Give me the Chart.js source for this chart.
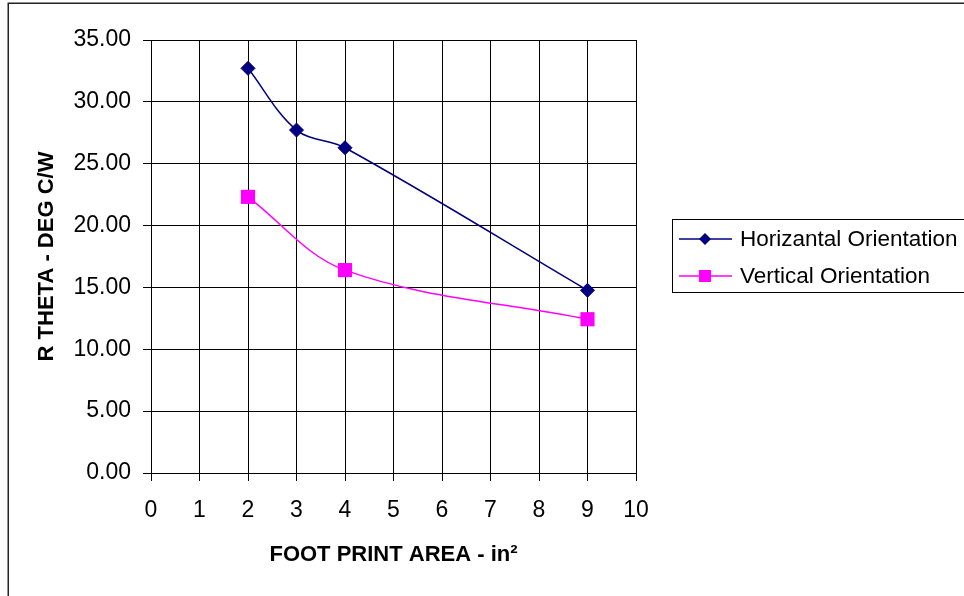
<!DOCTYPE html>
<html>
<head>
<meta charset="utf-8">
<script src="https://cdn.jsdelivr.net/npm/chart.js@4"></script>
<style>
  html, body { margin: 0; padding: 0; background: #fff; }
  #wrap { width: 964px; height: 596px; position: relative; }
</style>
</head>
<body>
<div id="wrap"><canvas id="rthetaChart"></canvas></div>
<script>
// Werte
const horizArea = [2, 3, 4, 9];
const horizRTheta = [32.71, 27.72, 26.29, 14.77];
const vertArea = [2, 4, 9];
const vertRTheta = [22.32, 16.40, 12.43];
const seriesNames = ['Horizantal Orientation', 'Vertical Orientation'];
const xTitle = 'FOOT PRINT AREA - in\u00B2';
const yTitle = 'R THETA - DEG C/W';

const FONT = '"Liberation Sans", Arial, sans-serif';

function toPoints(xs, ys) {
  return xs.map(function(x, i) { return { x: x, y: ys[i] }; });
}

// Rahmen oben/links und Legende rechts zeichnen
const framePlugin = {
  id: 'frameAndLegend',
  afterDraw: function(chart) {
    const ctx = chart.ctx;
    ctx.save();
    ctx.strokeStyle = '#222';
    ctx.lineWidth = 1.5;
    ctx.beginPath();
    ctx.moveTo(8.25, 600);
    ctx.lineTo(8.25, 3.25);
    ctx.lineTo(970, 3.25);
    ctx.stroke();

    // Legende
    ctx.strokeStyle = '#000';
    ctx.lineWidth = 1;
    ctx.strokeRect(672.5, 219.5, 300, 73);

    const rows = [239, 276];
    chart.data.datasets.forEach(function(ds, i) {
      const y = rows[i];
      ctx.strokeStyle = ds.borderColor;
      ctx.lineWidth = 1.5;
      ctx.beginPath();
      ctx.moveTo(679, y);
      ctx.lineTo(732, y);
      ctx.stroke();
      ctx.fillStyle = ds.backgroundColor;
      ctx.beginPath();
      if (ds.pointStyle === 'rectRot') {
        ctx.moveTo(705, y - 6);
        ctx.lineTo(711, y);
        ctx.lineTo(705, y + 6);
        ctx.lineTo(699, y);
      } else {
        ctx.rect(699, y - 6, 12, 12);
      }
      ctx.closePath();
      ctx.fill();
      ctx.fillStyle = '#000';
      ctx.font = '22.5px ' + FONT;
      ctx.textBaseline = 'middle';
      ctx.textAlign = 'left';
      ctx.fillText(ds.label, 740, y + 1);
    });
    ctx.restore();
  }
};

new Chart(document.getElementById('rthetaChart'), {
  type: 'line',
  data: {
    datasets: [
      {
        label: seriesNames[0],
        data: toPoints(horizArea, horizRTheta),
        borderColor: '#000080',
        backgroundColor: '#000080',
        borderWidth: 1.5,
        pointStyle: 'rectRot',
        pointRadius: 7,
        pointBorderWidth: 1,
        tension: 0.35
      },
      {
        label: seriesNames[1],
        data: toPoints(vertArea, vertRTheta),
        borderColor: '#FF00FF',
        backgroundColor: '#FF00FF',
        borderWidth: 1.5,
        pointStyle: 'rect',
        pointRadius: 10,
        pointBorderWidth: 0,
        tension: 0.35
      }
    ]
  },
  options: {
    responsive: true,
    maintainAspectRatio: false,
    animation: false,
    events: [],
    layout: { padding: { left: 0, right: 328, top: 40, bottom: 0 } },
    plugins: {
      legend: { display: false },
      tooltip: { enabled: false }
    },
    scales: {
      x: {
        type: 'linear',
        min: 0,
        max: 10,
        afterFit: function(scale) { scale.height = 123; },
        grid: { color: '#000', lineWidth: 1, tickLength: 8 },
        border: { color: '#000' },
        ticks: {
          stepSize: 1,
          color: '#000',
          padding: 16,
          maxRotation: 0,
          font: { family: FONT, size: 23 }
        },
        title: {
          display: true,
          text: xTitle,
          color: '#000',
          padding: { top: 0, bottom: 28 },
          font: { family: FONT, size: 22, weight: 'bold' }
        }
      },
      y: {
        min: 0,
        max: 35,
        afterFit: function(scale) { scale.width = 151; },
        grid: { color: '#000', lineWidth: 1, tickLength: 8 },
        border: { color: '#000' },
        ticks: {
          stepSize: 5,
          color: '#000',
          padding: 12,
          font: { family: FONT, size: 23 },
          callback: function(value) { return value.toFixed(2); }
        },
        title: {
          display: true,
          text: yTitle,
          color: '#000',
          padding: { top: 34, bottom: 0 },
          font: { family: FONT, size: 22, weight: 'bold' }
        }
      }
    }
  },
  plugins: [framePlugin]
});
</script>
</body>
</html>
